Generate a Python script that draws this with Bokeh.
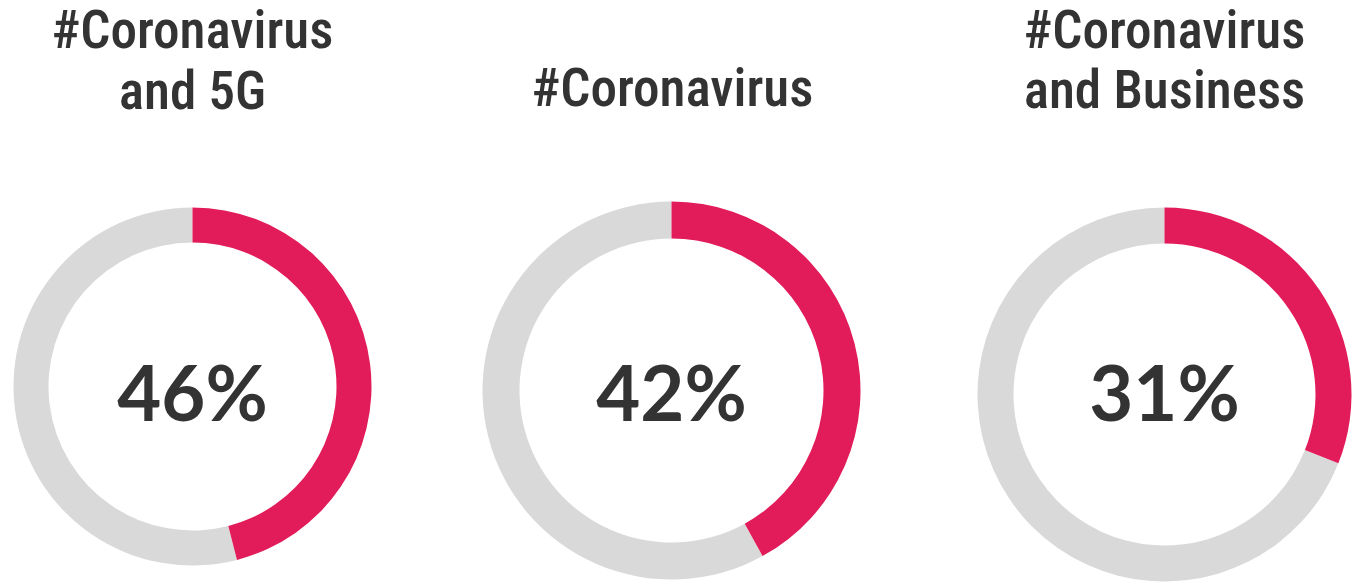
import math
from bokeh.plotting import figure
from bokeh.models import Range1d, ColumnDataSource
from bokeh.core.properties import value
from bokeh.embed import file_html
from bokeh.resources import INLINE

# ---- data ----
percentages = [46, 42, 31]
percent_labels = ["46%", "42%", "31%"]
title_line1 = ["#Coronavirus", "", "#Coronavirus"]
title_line2 = ["and 5G", "#Coronavirus", "and Business"]

# ---- layout (pixels) ----
W, H = 1357, 585
cx = [192, 671, 1164]
cy_screen = [386, 390, 394]
r_out = [179, 189, 187]
r_in = [144, 152, 151]
RED = "#E21B5A"
GREY = "#D9D9D9"
TXT = "#333333"
TITLE_FONT = "Roboto Condensed Medium, Roboto Condensed, Roboto"
PCT_FONT = "Lato"
TITLE_SIZE = 53
PCT_SIZE = 76

cy = [H - y for y in cy_screen]
start = [math.pi / 2] * 3
end = [math.pi / 2 - 2 * math.pi * v / 100 for v in percentages]

p = figure(width=W, height=H, x_range=Range1d(0, W), y_range=Range1d(0, H),
           output_backend="svg", toolbar_location=None, min_border=0,
           background_fill_color="white", border_fill_color="white")
p.axis.visible = False
p.grid.visible = False
p.outline_line_color = None

src = ColumnDataSource(dict(x=cx, y=cy, ri=r_in, ro=r_out, s=start, e=end,
                            lab=percent_labels,
                            ty=[H - (423 - 0.42 * PCT_SIZE)] * 3))

p.annular_wedge(x="x", y="y", inner_radius="ri", outer_radius="ro",
                start_angle="e", end_angle="s", direction="clock",
                fill_color=GREY, line_color=None, source=src)
p.annular_wedge(x="x", y="y", inner_radius="ri", outer_radius="ro",
                start_angle="s", end_angle="e", direction="clock",
                fill_color=RED, line_color=None, source=src)

p.text(x="x", y="ty", text="lab", source=src,
       text_font=value(PCT_FONT), text_font_size=f"{PCT_SIZE}px",
       text_font_style="bold", text_color=TXT,
       text_align="center", text_baseline="alphabetic")

tx = [192, 672, 1164]
off = 0.42 * TITLE_SIZE
p.text(x=tx, y=[H - (52 - off)] * 3, text=title_line1,
       text_font=value(TITLE_FONT), text_font_size=f"{TITLE_SIZE}px",
       text_color=TXT, text_align="center", text_baseline="alphabetic")
p.text(x=tx, y=[H - (113 - off), H - (110 - off), H - (112 - off)], text=title_line2,
       text_font=value(TITLE_FONT), text_font_size=f"{TITLE_SIZE}px",
       text_color=TXT, text_align="center", text_baseline="alphabetic")

open("out.html", "w").write(file_html(p, INLINE))
